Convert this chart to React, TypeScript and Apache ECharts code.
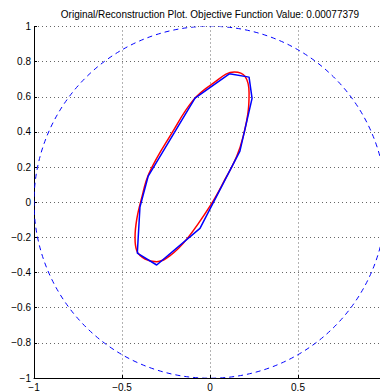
import React, { useEffect, useRef } from 'react';
import * as echarts from 'echarts';

const titleText = 'Original/Reconstruction Plot. Objective Function Value: 0.00077379';

// Original (red) closed curve
const originalX = [0.085, 0.010, -0.132, -0.227, -0.303, -0.369, -0.416, -0.426, -0.416, -0.390, -0.345, -0.216, -0.093, 0.019, 0.138, 0.199, 0.222, 0.218, 0.189, 0.152, 0.085];
const originalY = [0.130, -0.006, -0.210, -0.304, -0.338, -0.323, -0.276, -0.200, -0.096, 0.017, 0.168, 0.395, 0.584, 0.678, 0.741, 0.716, 0.622, 0.527, 0.376, 0.262, 0.130];

// Reconstruction (blue) polygon
const reconX = [0.110, 0.222, 0.239, 0.170, -0.057, -0.303, -0.413, -0.398, -0.351, -0.085, 0.110];
const reconY = [0.731, 0.712, 0.591, 0.291, -0.149, -0.357, -0.289, -0.028, 0.149, 0.593, 0.731];

// Unit circle: centre x, centre y, radius
const circleSpec = [0, 0, 1];

const xMin = -1, xMax = 1, xStep = 0.5;
const yMin = -1, yMax = 1, yStep = 0.2;

const FONT = '"Liberation Sans", Arial, Helvetica, sans-serif';

const fmt = (v: number) => {
  const r = Math.round(v * 10) / 10;
  return String(r).replace('-', '\u2212');
};

export default function App() {
  const ref = useRef<HTMLDivElement>(null);
  useEffect(() => {
    if (!ref.current) return;
    const chart = echarts.init(ref.current, undefined, { renderer: 'svg' });
    const axisCommon = {
      type: 'value' as const,
      axisLine: { show: true, onZero: false, lineStyle: { color: '#000', width: 1 } },
      axisTick: { show: true, inside: true, length: 3, lineStyle: { color: '#000' } },
      axisLabel: { color: '#000', fontSize: 10, fontFamily: FONT, formatter: fmt },
      splitLine: { show: true, lineStyle: { color: '#666', width: 1, type: [1, 3] } },
    };
    chart.setOption({
      animation: false,
      backgroundColor: '#fff',
      grid: { left: 34, top: 26.5, bottom: 12.5, right: 14, containLabel: false },
      graphic: [
        {
          type: 'text',
          x: 210,
          y: 9,
          style: {
            text: titleText,
            font: '10px ' + FONT,
            fill: '#000',
            align: 'center',
            verticalAlign: 'top',
            textAlign: 'center',
            textVerticalAlign: 'top',
          },
        },
      ],
      xAxis: { ...axisCommon, min: xMin, max: xMax, interval: xStep, axisLabel: { ...axisCommon.axisLabel, margin: 4, showMaxLabel: false } },
      yAxis: { ...axisCommon, min: yMin, max: yMax, interval: yStep, axisLabel: { ...axisCommon.axisLabel, margin: 3 } },
      series: [
        {
          type: 'custom',
          clip: true,
          data: [circleSpec],
          renderItem: (params: any, api: any) => {
            const c = api.coord([api.value(0), api.value(1)]);
            const e = api.coord([api.value(0) + api.value(2), api.value(1)]);
            return {
              type: 'circle',
              shape: { cx: c[0], cy: c[1], r: e[0] - c[0] },
              style: { fill: 'none', stroke: '#0000ff', lineWidth: 1, lineDash: [5, 4] },
            };
          },
        },
        {
          type: 'line',
          data: originalX.map((x, i) => [x, originalY[i]]),
          smooth: 0.4,
          symbol: 'none',
          lineStyle: { color: '#ff0000', width: 1.5 },
        },
        {
          type: 'line',
          data: reconX.map((x, i) => [x, reconY[i]]),
          symbol: 'none',
          lineStyle: { color: '#0000ff', width: 1.5 },
        },
      ],
    });
    return () => chart.dispose();
  }, []);
  return (
    <div style={{ position: 'fixed', left: 0, top: 0, width: 380, height: 392, overflow: 'hidden', background: '#fff' }}>
      <div ref={ref} style={{ width: 400, height: 392 }} />
    </div>
  );
}
